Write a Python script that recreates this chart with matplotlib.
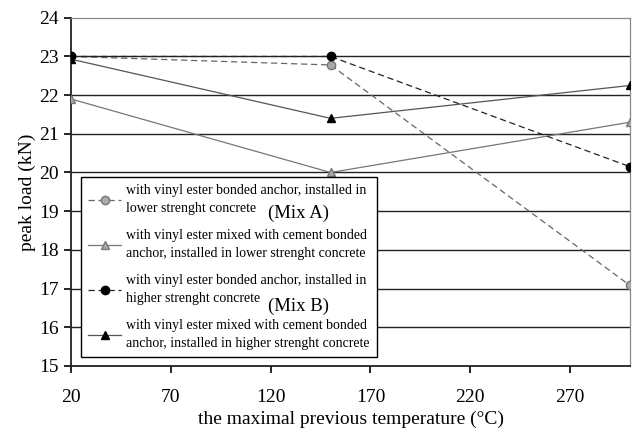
import matplotlib
matplotlib.use("Agg")
import matplotlib.pyplot as plt

# data
temps = [20, 150, 300]
ve_low = [23.0, 22.78, 17.08]       # vinyl ester, lower strength (Mix A)
vec_low = [21.9, 20.0, 21.3]        # vinyl ester + cement, lower strength
ve_high = [23.0, 23.0, 20.15]       # vinyl ester, higher strength (Mix B)
vec_high = [22.93, 21.4, 22.25]     # vinyl ester + cement, higher strength

labels = [
    "with vinyl ester bonded anchor, installed in\nlower strenght concrete",
    "with vinyl ester mixed with cement bonded\nanchor, installed in lower strenght concrete",
    "with vinyl ester bonded anchor, installed in\nhigher strenght concrete",
    "with vinyl ester mixed with cement bonded\nanchor, installed in higher strenght concrete",
]
xticks = [20, 70, 120, 170, 220, 270]
yticks = list(range(15, 25))

plt.rcParams["font.family"] = ["Liberation Serif", "DejaVu Serif"]

fig = plt.figure(figsize=(6.35, 4.34), dpi=100)
ax = fig.add_axes([0.112, 0.157, 0.880, 0.802])

for y in yticks[1:-1]:
    ax.axhline(y, color="#222222", lw=1.0, zorder=1)

line_kw = dict(lw=0.9, markersize=6, zorder=3)
ax.plot(temps, ve_low, ls=(0, (5, 3)), color="#666666", marker="o",
        mfc="#aaaaaa", mec="#777777", label=labels[0], **line_kw)
ax.plot(temps, vec_low, ls="-", color="#777777", marker="^",
        mfc="#aaaaaa", mec="#777777", label=labels[1], **line_kw)
ax.plot(temps, ve_high, ls=(0, (5, 3)), color="#222222", marker="o",
        mfc="black", mec="black", label=labels[2], **line_kw)
ax.plot(temps, vec_high, ls="-", color="#555555", marker="^",
        mfc="black", mec="black", label=labels[3], **line_kw)

ax.set_xlim(20, 300)
ax.set_ylim(15, 24)
ax.set_xticks(xticks)
ax.set_yticks(yticks)
ax.tick_params(axis="both", labelsize=14, direction="out", length=5, width=1.2, pad=4)
ax.tick_params(axis="x", pad=12)
for s in ["left", "bottom"]:
    ax.spines[s].set_linewidth(1.3)
    ax.spines[s].set_color("#222222")
for s in ["top", "right"]:
    ax.spines[s].set_color("#888888")
    ax.spines[s].set_linewidth(0.9)

ax.set_xlabel("the maximal previous temperature (°C)", fontsize=14, labelpad=3)
ax.set_ylabel("peak load (kN)", fontsize=14, labelpad=2)

leg = ax.legend(loc="lower left", bbox_to_anchor=(0.018, 0.026), fontsize=10,
                frameon=True, fancybox=False, edgecolor="black", framealpha=1,
                handlelength=2.4, labelspacing=1.05, borderpad=0.5,
                handletextpad=0.35, borderaxespad=0)
for t in leg.get_texts():
    t.set_linespacing(1.45)
leg.get_frame().set_linewidth(1.0)
leg.set_zorder(5)

ax.text(0.352, 0.438, "(Mix A)", transform=ax.transAxes, fontsize=13.5,
        va="center", zorder=6)
ax.text(0.352, 0.172, "(Mix B)", transform=ax.transAxes, fontsize=13.5,
        va="center", zorder=6)

fig.savefig("out.png", dpi=100)
